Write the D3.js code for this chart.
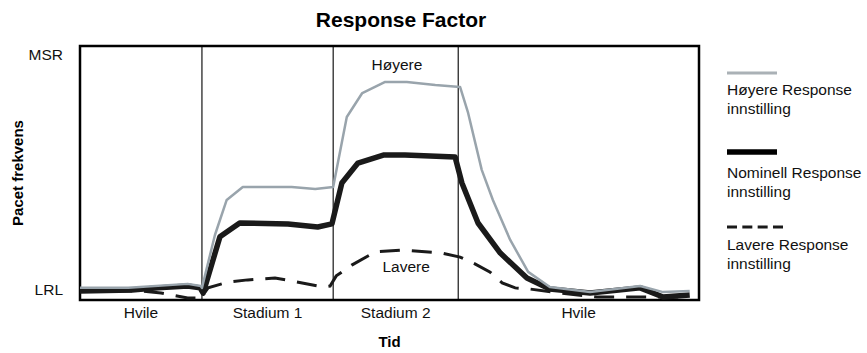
<!DOCTYPE html>
<html><head><meta charset="utf-8">
<script src="https://cdn.jsdelivr.net/npm/d3@7"></script>
<style>
html,body{margin:0;padding:0;background:#fff;}
svg{display:block;font-family:"Liberation Sans",Arial,Helvetica,sans-serif;}
</style></head><body>
<svg id="chart" width="867" height="353"></svg>
<script>
// ---------- data ----------
const chartTitle = "Response Factor";
const yAxisTitle = "Pacet frekvens";
const xAxisTitle = "Tid";
const rateTicks = [0, 100];
const rateTickLabels = ["LRL", "MSR"];
const phaseBounds = [0, 19.7, 40.9, 61.1, 100];
const phaseLabels = ["Hvile", "Stadium 1", "Stadium 2", "Hvile"];
const seriesLabels = ["Høyere Response innstilling", "Nominell Response innstilling", "Lavere Response innstilling"];
const annotHigher = {text: "Høyere", t: 51.2, v: 93.6};
const annotLower = {text: "Lavere", t: 52.7, v: 7.7};

const higherT = [0, 7.8, 17.4, 19.5, 19.7, 21.8, 23.7, 26.3, 34.2, 38.0, 40.9, 43.1, 45.6, 49.3, 52.8, 57.4, 61.4, 62.7, 64.9, 66.7, 69.5, 72.4, 75.9, 82.4, 90.5, 94.2, 98.5];
const higherV = [0.9, 0.9, 2.6, 1.7, 0.9, 23.4, 38.3, 43.8, 43.8, 43.0, 43.8, 73.6, 83.8, 88.5, 88.5, 87.2, 86.4, 75.3, 51.1, 38.3, 21.3, 7.7, 1.3, -0.9, 1.7, -0.9, -0.4];

const nominalT = [0, 8.4, 12.6, 17.4, 19.4, 19.9, 22.6, 25.8, 33.6, 38.4, 40.7, 42.3, 44.9, 49.0, 52.5, 60.6, 61.7, 64.3, 67.9, 72.2, 75.9, 82.4, 90.5, 94.2, 98.5];
const nominalV = [-0.4, 0, 0.9, 1.7, 0.9, -1.3, 22.6, 28.5, 28.1, 26.8, 28.1, 45.5, 54.0, 57.4, 57.4, 56.6, 45.5, 28.5, 15.7, 5.1, 0.4, -1.3, 0.9, -3.0, -2.1];

const lowerT = [0, 9.7, 13.1, 17.4, 19.5, 20.7, 23.9, 27.1, 31.5, 35.9, 39.3, 40.4, 41.4, 43.9, 47.7, 52.0, 58.5, 61.4, 63.8, 66.2, 68.2, 70.3, 72.7, 77.5, 83.5, 92.1, 98.5];
const lowerV = [-0.4, -0.4, -1.3, -3.4, -3.4, 0.9, 3.4, 4.3, 5.1, 3.0, 1.3, 1.7, 6.0, 10.6, 16.2, 17.0, 15.7, 14.0, 11.1, 7.7, 3.0, 0.9, 0.4, -1.3, -3.0, -3.0, -3.0];

// ---------- drawing ----------
const svg = d3.select("#chart");
const x = d3.scaleLinear().domain([0, 100]).range([80, 699]);
const y = d3.scaleLinear().domain([-4.26, 103.8]).range([300, 46]);

const [t0, t1] = x.domain();
const [v0, v1] = y.domain();

// frame
svg.append("rect")
  .attr("x", x(t0)).attr("y", y(v1))
  .attr("width", x(t1) - x(t0)).attr("height", y(v0) - y(v1))
  .attr("fill", "none").attr("stroke", "#000").attr("stroke-width", 2.5);

// phase dividers
svg.append("g").selectAll("line").data(phaseBounds.slice(1, -1)).join("line")
  .attr("x1", d => x(d)).attr("x2", d => x(d))
  .attr("y1", y(v1)).attr("y2", y(v0))
  .attr("stroke", "#000").attr("stroke-width", 1.1);

// phase labels
svg.append("g").selectAll("text").data(phaseLabels).join("text")
  .attr("x", (d, i) => x((phaseBounds[i] + phaseBounds[i + 1]) / 2))
  .attr("y", 318)
  .attr("text-anchor", "middle")
  .style("font-size", "15.5px").attr("fill", "#111")
  .text(d => d);

// y axis (LRL / MSR)
const yAxis = d3.axisLeft(y).tickValues(rateTicks)
  .tickFormat((d, i) => rateTickLabels[i]).tickSize(0).tickPadding(17);
const ya = svg.append("g").attr("transform", `translate(${x(t0)},0)`).call(yAxis);
ya.select(".domain").remove();
ya.selectAll("text").style("font-size", "15.5px").style("font-family", "'Liberation Sans',Arial,sans-serif").attr("fill", "#111");

// lines
const line = d3.line().x(d => x(d[0])).y(d => y(d[1]));
const lowerData = d3.zip(lowerT, lowerV);
const nominalData = d3.zip(nominalT, nominalV);
const higherData = d3.zip(higherT, higherV);

svg.append("path").datum(lowerData).attr("d", line)
  .attr("fill", "none").attr("stroke", "#1a1a1a").attr("stroke-width", 3)
  .attr("stroke-dasharray", "20,12");
svg.append("path").datum(nominalData).attr("d", line)
  .attr("fill", "none").attr("stroke", "#1a1a1a").attr("stroke-width", 5.5)
  .attr("stroke-linejoin", "round");
svg.append("path").datum(higherData).attr("d", line)
  .attr("fill", "none").attr("stroke", "#99a4ac").attr("stroke-width", 2.5)
  .attr("stroke-linejoin", "round");

// annotations
[annotHigher, annotLower].forEach(a => {
  svg.append("text").attr("x", x(a.t)).attr("y", y(a.v))
    .attr("text-anchor", "middle").style("font-size", "15.5px").attr("fill", "#111")
    .text(a.text);
});

// titles
svg.append("text").attr("x", 401).attr("y", 27).attr("text-anchor", "middle")
  .style("font-size", "21px").style("font-weight", "bold").attr("fill", "#000")
  .text(chartTitle);
svg.append("text").attr("x", (x(t0) + x(t1)) / 2).attr("y", 347).attr("text-anchor", "middle")
  .style("font-size", "15px").style("font-weight", "bold").attr("fill", "#000")
  .text(xAxisTitle);
svg.append("text").attr("transform", `translate(23,${(y(v0) + y(v1)) / 2}) rotate(-90)`)
  .attr("text-anchor", "middle")
  .style("font-size", "15px").style("font-weight", "bold").attr("fill", "#000")
  .text(yAxisTitle);

// legend
const legendItems = [
  {label: seriesLabels[0], color: "#aab1b6", width: 3, dash: null, ly: 73, ty: 95, x2: 777},
  {label: seriesLabels[1], color: "#000", width: 5.5, dash: null, ly: 152, ty: 178, x2: 777},
  {label: seriesLabels[2], color: "#1a1a1a", width: 3, dash: "10,5.33", ly: 227, ty: 250, x2: 783}
];
const lg = svg.append("g");
legendItems.forEach(it => {
  lg.append("line").attr("x1", 727).attr("x2", it.x2).attr("y1", it.ly).attr("y2", it.ly)
    .attr("stroke", it.color).attr("stroke-width", it.width)
    .attr("stroke-dasharray", it.dash);
  const words = it.label.split(" ");
  const t = lg.append("text").attr("x", 727).attr("y", it.ty)
    .style("font-size", "15.5px").attr("fill", "#111");
  t.append("tspan").attr("x", 727).text(words.slice(0, 2).join(" "));
  t.append("tspan").attr("x", 727).attr("dy", 19).text(words.slice(2).join(" "));
});
</script>
</body></html>
